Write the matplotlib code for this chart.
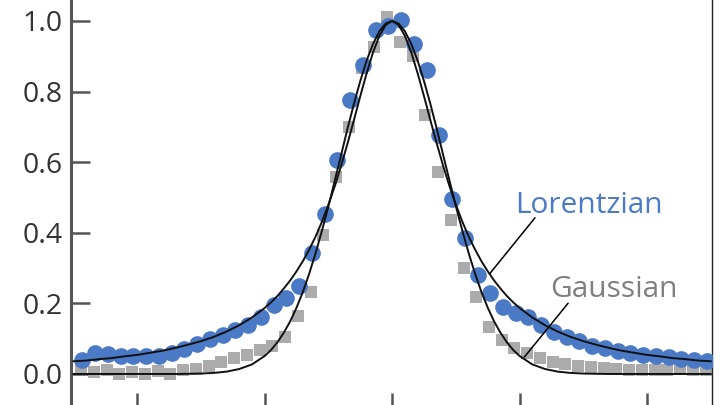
import numpy as np
from matplotlib import pyplot as plt

# measured points (blue circles = Lorentzian-like data, gray squares = Gaussian-like data)
lor_x = [-2.43, -2.33, -2.23, -2.13, -2.03, -1.93, -1.83, -1.73, -1.63, -1.53,
         -1.43, -1.33, -1.23, -1.13, -1.03, -0.93, -0.83, -0.73, -0.63, -0.53,
         -0.43, -0.33, -0.23, -0.13, -0.03, 0.07, 0.17, 0.27, 0.37, 0.47,
         0.57, 0.67, 0.77, 0.87, 0.97, 1.07, 1.17, 1.27, 1.37, 1.47,
         1.57, 1.67, 1.77, 1.87, 1.97, 2.07, 2.17, 2.27, 2.37, 2.47]
lor_y = [0.040, 0.060, 0.056, 0.052, 0.050, 0.050, 0.052, 0.060, 0.070, 0.085,
         0.098, 0.110, 0.125, 0.140, 0.160, 0.195, 0.215, 0.250, 0.342, 0.452,
         0.606, 0.776, 0.875, 0.974, 0.985, 1.003, 0.935, 0.861, 0.677, 0.495,
         0.385, 0.280, 0.230, 0.190, 0.172, 0.160, 0.139, 0.118, 0.105, 0.092,
         0.080, 0.073, 0.064, 0.058, 0.055, 0.052, 0.047, 0.043, 0.040, 0.038]

gau_x = [-2.44, -2.34, -2.24, -2.14, -2.04, -1.94, -1.84, -1.74, -1.64, -1.54,
         -1.44, -1.34, -1.24, -1.14, -1.04, -0.94, -0.84, -0.74, -0.64, -0.54,
         -0.44, -0.34, -0.24, -0.14, -0.04, 0.06, 0.16, 0.26, 0.36, 0.46,
         0.56, 0.66, 0.76, 0.86, 0.96, 1.06, 1.16, 1.26, 1.36, 1.46,
         1.56, 1.66, 1.76, 1.86, 1.96, 2.06, 2.16, 2.26, 2.36, 2.46]
gau_y = [0.015, 0.005, 0.010, 0.000, 0.005, 0.000, 0.008, 0.000, 0.010, 0.015,
         0.022, 0.035, 0.045, 0.055, 0.068, 0.080, 0.105, 0.165, 0.233, 0.394,
         0.559, 0.700, 0.866, 0.927, 1.010, 0.940, 0.900, 0.734, 0.573, 0.436,
         0.300, 0.219, 0.134, 0.096, 0.073, 0.059, 0.045, 0.035, 0.028, 0.022,
         0.020, 0.018, 0.015, 0.012, 0.010, 0.012, 0.010, 0.015, 0.010, 0.012]

# fitted curves
fit_x = [-2.5, -2.4, -2.3, -2.2, -2.1, -2.0, -1.9, -1.8, -1.7, -1.6, -1.5, -1.4,
         -1.3, -1.2, -1.1, -1.0, -0.95, -0.9, -0.85, -0.8, -0.75, -0.7, -0.65,
         -0.6, -0.55, -0.5, -0.45, -0.4, -0.35, -0.3, -0.25, -0.2, -0.15, -0.1,
         -0.05, 0.0, 0.05, 0.1, 0.15, 0.2, 0.25, 0.3, 0.35, 0.4, 0.45, 0.5,
         0.55, 0.6, 0.65, 0.7, 0.75, 0.8, 0.85, 0.9, 0.95, 1.0, 1.1, 1.2, 1.3,
         1.4, 1.5, 1.6, 1.7, 1.8, 1.9, 2.0, 2.1, 2.2, 2.3, 2.4, 2.5]
lor_fit = [0.036, 0.038, 0.042, 0.045, 0.050, 0.054, 0.060, 0.066, 0.074, 0.083,
           0.093, 0.105, 0.120, 0.138, 0.160, 0.187, 0.203, 0.221, 0.242, 0.265,
           0.291, 0.320, 0.353, 0.390, 0.432, 0.480, 0.532, 0.590, 0.653, 0.719,
           0.787, 0.852, 0.911, 0.958, 0.989, 1.000, 0.989, 0.958, 0.911, 0.852,
           0.787, 0.719, 0.653, 0.590, 0.532, 0.480, 0.432, 0.390, 0.353, 0.320,
           0.291, 0.265, 0.242, 0.221, 0.203, 0.187, 0.160, 0.138, 0.120, 0.105,
           0.093, 0.083, 0.074, 0.066, 0.060, 0.054, 0.050, 0.045, 0.042, 0.038,
           0.036]
gau_fit = [0.000, 0.000, 0.000, 0.000, 0.000, 0.000, 0.000, 0.000, 0.000, 0.0005,
           0.0012, 0.003, 0.0066, 0.014, 0.027, 0.051, 0.068, 0.090, 0.117, 0.149,
           0.188, 0.233, 0.285, 0.343, 0.407, 0.475, 0.548, 0.621, 0.695, 0.765,
           0.830, 0.888, 0.935, 0.971, 0.993, 1.000, 0.993, 0.971, 0.935, 0.888,
           0.830, 0.765, 0.695, 0.621, 0.548, 0.475, 0.407, 0.343, 0.285, 0.233,
           0.188, 0.149, 0.117, 0.090, 0.068, 0.051, 0.027, 0.014, 0.0066, 0.003,
           0.0012, 0.0005, 0.000, 0.000, 0.000, 0.000, 0.000, 0.000, 0.000, 0.000,
           0.000]

x_ticks = [-2, -1, 0, 1, 2]
y_ticks = [0.0, 0.2, 0.4, 0.6, 0.8, 1.0]

blue = '#4a79c6'
gray = '#ababab'

plt.rcParams['font.family'] = ['Open Sans', 'DejaVu Sans']

fig = plt.figure(figsize=(7.2, 4.05), dpi=100)
ax = fig.add_axes([71 / 720, -0.0175, 641 / 720, 1.0267])

ax.plot(gau_x, gau_y, 's', color=gray, markersize=9.2, markeredgewidth=0, zorder=2)
ax.plot(lor_x, lor_y, 'o', color=blue, markersize=12, markeredgewidth=0, zorder=3)
ax.plot(fit_x, lor_fit, color='#111111', linewidth=1.4, zorder=4)
ax.plot(fit_x, gau_fit, color='#111111', linewidth=1.4, zorder=4)

# labels with leader lines
ax.plot([1.12, 0.77], [0.442, 0.286], color='black', linewidth=1.1, zorder=5)
ax.plot([1.38, 1.04], [0.20, 0.049], color='black', linewidth=1.1, zorder=5)
ax.text(0.965, 0.455, 'Lorentzian', color='#4b7bc8', fontsize=21.5, ha='left', va='baseline')
ax.text(1.24, 0.219, 'Gaussian', color='#808080', fontsize=21.5, ha='left', va='baseline')

ax.set_xlim(-2.52, 2.51)
ax.set_ylim(-0.108, 1.07)
ax.set_xticks(x_ticks)
ax.set_xticklabels([])
ax.set_yticks(y_ticks)
ax.set_yticklabels(['%.1f' % v for v in y_ticks])

ax.tick_params(axis='both', direction='in', length=14, width=1.8, color='#555555')
ax.tick_params(axis='y', labelsize=20.5, labelcolor='#333333', pad=6)

for side in ['left', 'bottom']:
    ax.spines[side].set_color('#555555')
    ax.spines[side].set_linewidth(2.2)
ax.spines['right'].set_color('#222222')
ax.spines['right'].set_linewidth(1)
ax.spines['top'].set_visible(False)

fig.savefig('out.png', dpi=100)
